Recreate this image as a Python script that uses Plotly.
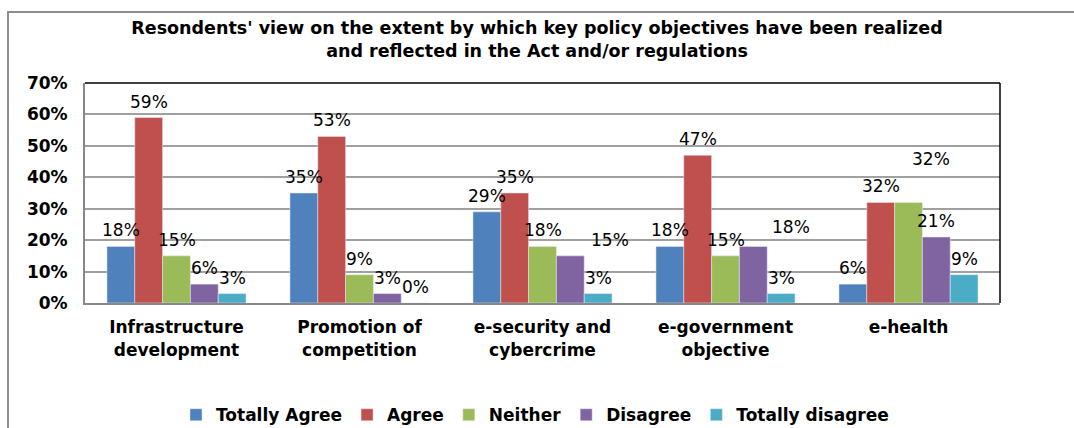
import plotly.graph_objects as go

categories = ["Infrastructure<br>development", "Promotion of<br>competition",
              "e-security and<br>cybercrime", "e-government<br>objective", "e-health"]
series_names = ["Totally Agree", "Agree", "Neither", "Disagree", "Totally disagree"]
totally_agree = [18, 35, 29, 18, 6]
agree = [59, 53, 35, 47, 32]
neither = [15, 9, 18, 15, 32]
disagree = [6, 3, 15, 18, 21]
totally_disagree = [3, 0, 3, 3, 9]
y_ticks = [0, 10, 20, 30, 40, 50, 60, 70]
y_tick_labels = ["0%", "10%", "20%", "30%", "40%", "50%", "60%", "70%"]

colors = ["#4F81BD", "#C0504D", "#9BBB59", "#8064A2", "#4BACC6"]
all_series = [totally_agree, agree, neither, disagree, totally_disagree]

# style: manual nudges (pixels) of a few data labels, as in the original
label_nudge = {(3, 2): (40, 0), (3, 3): (38, -3), (2, 4): (22, -27)}

FONT = "DejaVu Sans"
L, R, T, B = 85, 74, 83, 125
W, H = 1074, 428
PW = W - L - R
BARGAP = 0.24
bar_px = PW / len(categories) * (1 - BARGAP) / len(all_series)

fig = go.Figure()
annotations = []
for si, (name, vals, col) in enumerate(zip(series_names, all_series, colors)):
    fig.add_trace(go.Bar(
        x=categories, y=vals, name=name, marker_color=col,
    ))
    for ci, (cat, v) in enumerate(zip(categories, vals)):
        dx, dy = label_nudge.get((si, ci), (0, 0))
        annotations.append(dict(
            x=cat, y=v, xref="x", yref="y", text=f"{v}%", showarrow=False,
            xanchor="center", yanchor="middle",
            xshift=(si - 2) * bar_px + dx, yshift=16 - dy,
            font=dict(family=FONT, size=17, color="#000000"),
        ))

fig.update_layout(
    width=W, height=H,
    margin=dict(l=L, r=R, t=T, b=B, autoexpand=False),
    paper_bgcolor="white", plot_bgcolor="white",
    barmode="group", bargap=BARGAP, bargroupgap=0,
    title=dict(
        text="<b>Resondents' view on the extent by which key policy objectives have been realized<br>and reflected in the Act and/or regulations</b>",
        x=537 / W, xref="container", xanchor="center",
        y=1 - 34 / H, yref="container", yanchor="middle",
        font=dict(family=FONT, size=17.5, color="#000000"),
    ),
    font=dict(family=FONT, color="#000000"),
    showlegend=True,
    legend=dict(
        orientation="h", x=(535 - L) / PW, xanchor="center",
        y=-0.51, yanchor="middle",
        font=dict(family=FONT, size=17, color="#000000", weight="bold"),
        itemwidth=30, traceorder="normal",
    ),
    xaxis=dict(
        showgrid=False, showline=True, linecolor="#888888", linewidth=2,
        tickfont=dict(family=FONT, size=17, color="#000000", weight="bold"),
        ticks="", ticklabelstandoff=8, tickangle=0,
    ),
    yaxis=dict(
        range=[0, 70], tickvals=y_ticks, ticktext=y_tick_labels,
        showgrid=True, gridcolor="#A0A0A0", gridwidth=1.5,
        showline=True, linecolor="#888888", linewidth=2,
        tickfont=dict(family=FONT, size=17, color="#000000", weight="bold"),
        ticks="", ticklabelstandoff=12, zeroline=False,
    ),
    annotations=annotations,
    shapes=[
        dict(type="line", xref="paper", yref="paper", x0=0, x1=1, y0=1, y1=1,
             line=dict(color="#000000", width=1.5)),
        dict(type="line", xref="paper", yref="paper", x0=1, x1=1, y0=0, y1=1,
             line=dict(color="#000000", width=1.5)),
        dict(type="rect", xref="paper", yref="paper",
             x0=(8 - L) / PW, x1=(1080 - L) / PW,
             y0=-(440 - 303) / 220, y1=1 + (83 - 12) / 220,
             line=dict(color="#8C8C8C", width=2), layer="below"),
    ],
)

fig.write_html("out.html")
